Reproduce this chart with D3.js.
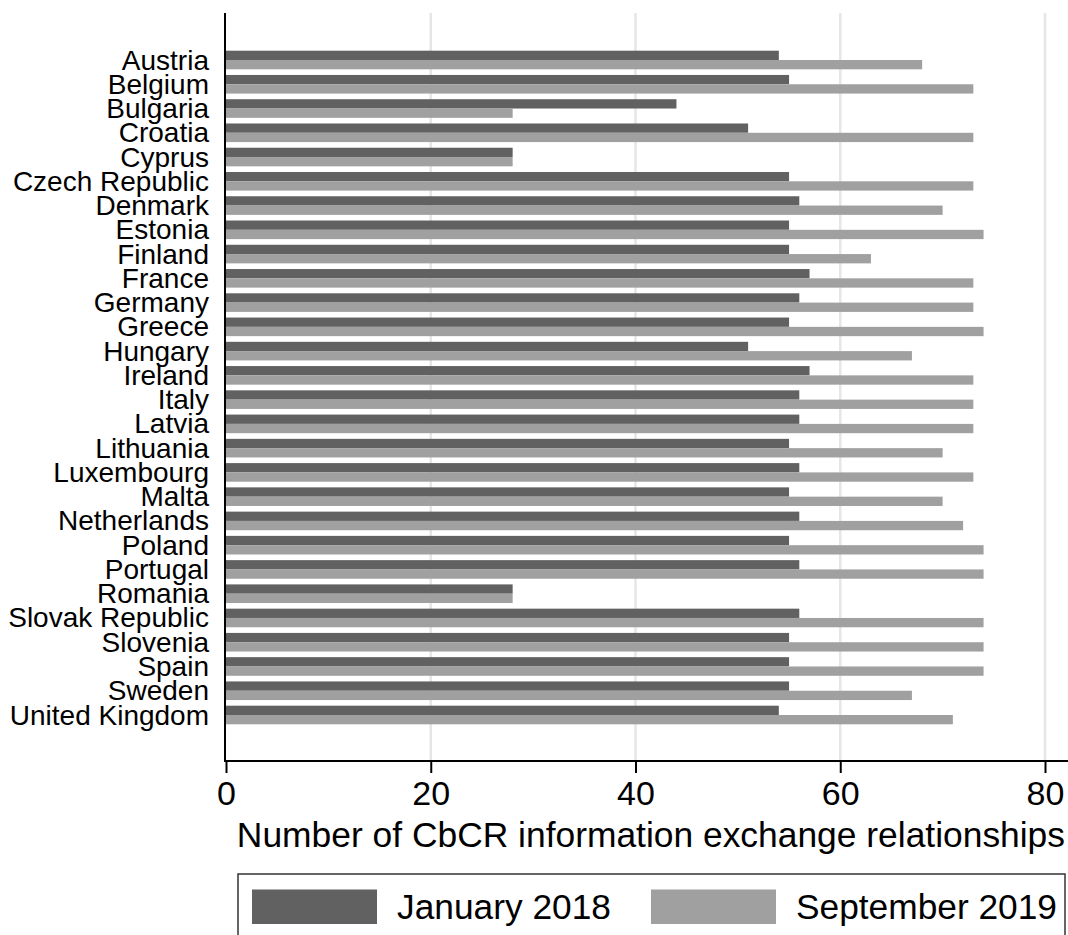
<!DOCTYPE html>
<html>
<head>
<meta charset="utf-8">
<script src="https://cdn.jsdelivr.net/npm/d3@7"></script>
<style>
  body { margin: 0; background: #fff; }
  text { font-family: Arial, "Liberation Sans", sans-serif; fill: #000; }
</style>
</head>
<body>
<div id="chart"></div>
<script>
// CbCR exchange relationships, EU member states

var countries = ["Austria", "Belgium", "Bulgaria", "Croatia", "Cyprus", "Czech Republic",
  "Denmark", "Estonia", "Finland", "France", "Germany", "Greece", "Hungary", "Ireland",
  "Italy", "Latvia", "Lithuania", "Luxembourg", "Malta", "Netherlands", "Poland",
  "Portugal", "Romania", "Slovak Republic", "Slovenia", "Spain", "Sweden", "United Kingdom"]

var jan2018 = [54, 55, 44, 51, 28, 55, 56, 55, 55, 57, 56, 55, 51, 57,
  56, 56, 55, 56, 55, 56, 55, 56, 28, 56, 55, 55, 55, 54]

var sep2019 = [68, 73, 28, 73, 28, 73, 70, 74, 63, 73, 73, 74, 67, 73,
  73, 73, 70, 73, 70, 72, 74, 74, 28, 74, 74, 74, 67, 71]

var seriesNames = ["January 2018", "September 2019"]
var xTicks = [0, 20, 40, 60, 80]

var width = 1068
var height = 935

var color = d3.scaleOrdinal()
  .domain(seriesNames)
  .range(["#616161", "#a0a0a0"])

var svg = d3.select("#chart")
  .append("svg")
    .attr("width", width)
    .attr("height", height)

// scales
var x = d3.scaleLinear()
  .domain([0, 80])
  .range([226, 1045])

var y = d3.scaleBand()
  .domain(countries)
  .range([47.87, 727.13])
  .paddingInner(0.233)
  .paddingOuter(0.1165)

var ySub = d3.scaleBand()
  .domain(seriesNames)
  .range([0, y.bandwidth()])

var plotTop = 13
var plotBottom = 761

// gridlines
svg.append("g")
  .selectAll("line")
  .data(xTicks.slice(1))
  .enter()
  .append("line")
    .attr("x1", function(d){ return x(d) })
    .attr("x2", function(d){ return x(d) })
    .attr("y1", plotTop)
    .attr("y2", plotBottom)
    .attr("stroke", "#e6e6e6")
    .attr("stroke-width", 2.5)

// bars
var rows = countries.map(function(c, i) {
  return [
    { country: c, series: seriesNames[0], value: jan2018[i] },
    { country: c, series: seriesNames[1], value: sep2019[i] }
  ]
})

svg.append("g")
  .selectAll("g")
  .data(rows)
  .enter()
  .append("g")
    .attr("transform", function(d){ return "translate(0," + y(d[0].country) + ")" })
  .selectAll("rect")
  .data(function(d){ return d })
  .enter()
  .append("rect")
    .attr("x", x(0))
    .attr("y", function(d){ return ySub(d.series) })
    .attr("width", function(d){ return x(d.value) - x(0) })
    .attr("height", ySub.bandwidth())
    .attr("fill", function(d){ return color(d.series) })

// x axis
var xAxis = svg.append("g")
  .attr("transform", "translate(0," + plotBottom + ")")
  .call(d3.axisBottom(x).tickValues(xTicks).tickSize(12).tickPadding(8))
xAxis.select(".domain").remove()
xAxis.selectAll(".tick line").attr("stroke", "#000").attr("stroke-width", 2)
xAxis.selectAll("text")
  .style("font-size", "34px")
  .attr("font-family", null)
xAxis.append("line")
  .attr("x1", 224)
  .attr("x2", width)
  .attr("y1", 0)
  .attr("y2", 0)
  .attr("stroke", "#000")
  .attr("stroke-width", 2)

// y axis
var yAxis = svg.append("g")
  .attr("transform", "translate(" + 225 + ",0)")
  .call(d3.axisLeft(y).tickSize(0).tickPadding(16))
yAxis.select(".domain").remove()
yAxis.selectAll("text")
  .style("font-size", "28px")
  .attr("dy", "0.34em")
  .attr("font-family", null)
svg.append("line")
  .attr("x1", 225)
  .attr("x2", 225)
  .attr("y1", plotTop)
  .attr("y2", plotBottom + 1)
  .attr("stroke", "#000")
  .attr("stroke-width", 2)

// axis title
svg.append("text")
  .attr("x", 1065)
  .attr("y", 847)
  .attr("text-anchor", "end")
  .style("font-size", "35.4px")
  .text("Number of CbCR information exchange relationships")

// legend
var legend = svg.append("g")
legend.append("rect")
  .attr("x", 238)
  .attr("y", 874)
  .attr("width", 827)
  .attr("height", 80)
  .attr("fill", "none")
  .attr("stroke", "#333")
  .attr("stroke-width", 1.5)

var legendX = [252, 651]
var items = legend.selectAll("g.item")
  .data(seriesNames)
  .enter()
  .append("g")
    .attr("class", "item")
    .attr("transform", function(d, i){ return "translate(" + legendX[i] + ",0)" })
items.append("rect")
  .attr("x", 0)
  .attr("y", 889.5)
  .attr("width", 125)
  .attr("height", 34.5)
  .attr("fill", function(d){ return color(d) })
items.append("text")
  .attr("x", 145)
  .attr("y", 919)
  .style("font-size", "35.3px")
  .text(function(d){ return d })
</script>
</body>
</html>
